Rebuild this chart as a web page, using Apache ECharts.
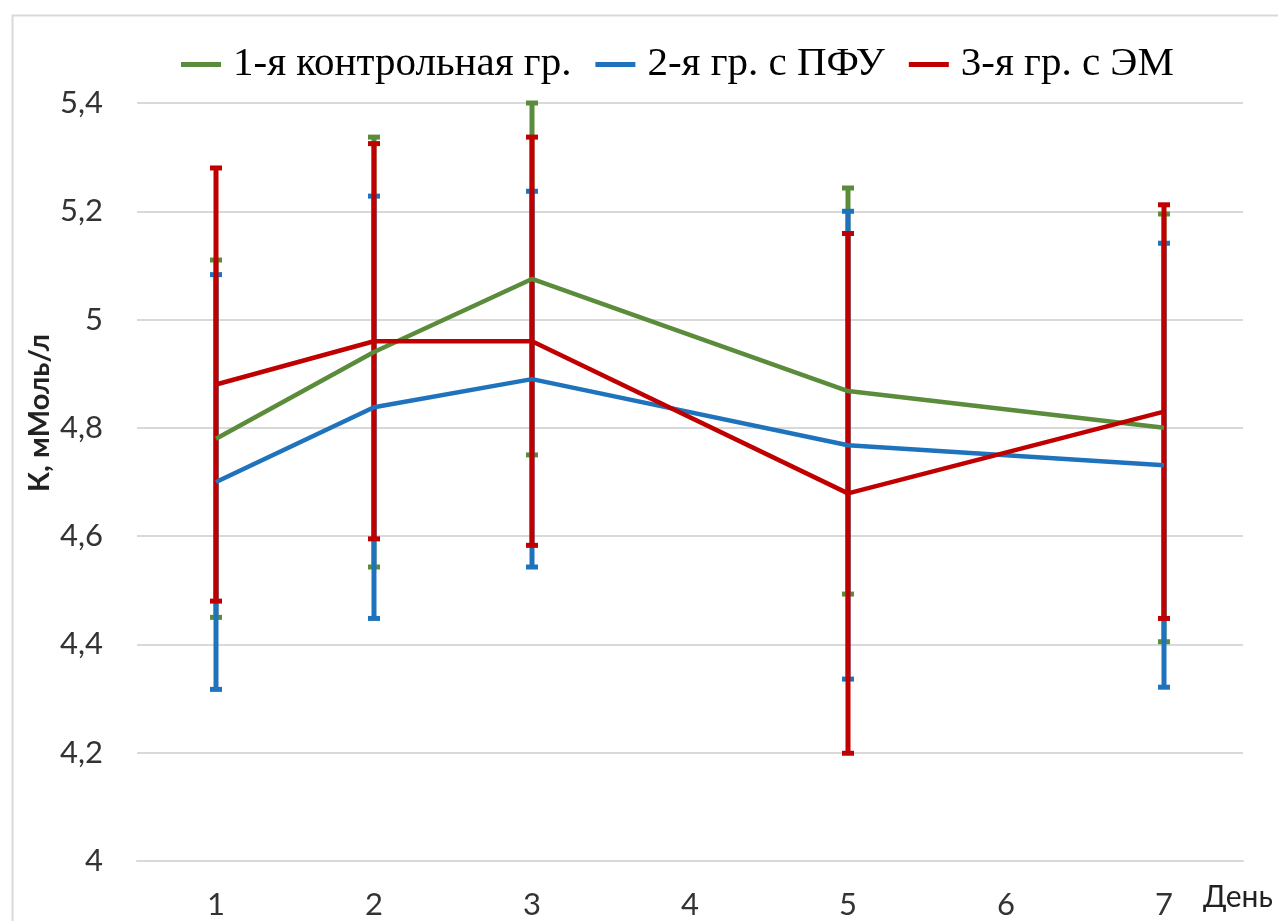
<!DOCTYPE html>
<html>
<head>
<meta charset="utf-8">
<script src="https://cdn.jsdelivr.net/npm/echarts@6/dist/echarts.min.js"></script>
<style>
  html, body { margin: 0; padding: 0; background: #fff; }
  #chart { width: 1278px; height: 921px; }
</style>
</head>
<body>
<div id="chart"></div>
<script>
// Days of observation (4 and 6 have no measurements)
const days = ['1', '2', '3', '4', '5', '6', '7'];

// Series names
const seriesNames = ['1-я контрольная гр.', '2-я гр. с ПФУ', '3-я гр. с ЭМ'];

// Mean potassium, mmol/l
const controlMean = [4.78, 4.94, 5.075, null, 4.868, null, 4.80];
const pfuMean     = [4.70, 4.838, 4.89, null, 4.768, null, 4.731];
const emMean      = [4.88, 4.96, 4.96, null, 4.679, null, 4.83];

// Standard deviations (error bar half-lengths)
const controlSd = [0.33, 0.397, 0.325, null, 0.375, null, 0.395];
const pfuSd     = [0.383, 0.39, 0.347, null, 0.432, null, 0.41];
const emSd      = [0.40, 0.365, 0.377, null, 0.48, null, 0.382];

// Y axis ticks
const yMin = 4, yMax = 5.4, yStep = 0.2;

const colors = ['#5b8c3b', '#1f73bd', '#c00000'];
const serifFont = 'Liberation Serif';
const sansFont = 'Lato';

function errorData(mean, sd) {
  const out = [];
  mean.forEach((m, i) => {
    if (m !== null && sd[i] !== null) out.push([i, m - sd[i], m + sd[i]]);
  });
  return out;
}

function errorSeries(mean, sd, color, z) {
  return {
    type: 'custom',
    z: z,
    silent: true,
    data: errorData(mean, sd),
    encode: { x: 0, y: [1, 2] },
    renderItem: function (params, api) {
      const x = api.value(0);
      const lo = api.coord([x, api.value(1)]);
      const hi = api.coord([x, api.value(2)]);
      const cap = 6;
      const style = { stroke: color, lineWidth: 5 };
      return {
        type: 'group',
        children: [
          { type: 'line', shape: { x1: lo[0], y1: lo[1], x2: hi[0], y2: hi[1] }, style: style },
          { type: 'line', shape: { x1: hi[0] - cap, y1: hi[1], x2: hi[0] + cap, y2: hi[1] }, style: style },
          { type: 'line', shape: { x1: lo[0] - cap, y1: lo[1], x2: lo[0] + cap, y2: lo[1] }, style: style }
        ]
      };
    }
  };
}

function lineSeries(name, data, color) {
  return {
    name: name,
    type: 'line',
    data: data,
    connectNulls: true,
    showSymbol: false,
    symbol: 'none',
    z: 4,
    lineStyle: { color: color, width: 4.5 },
    itemStyle: { color: color }
  };
}

const chart = echarts.init(document.getElementById('chart'), null, { renderer: 'canvas' });

chart.setOption({
  animation: false,
  backgroundColor: '#ffffff',
  color: colors,
  legend: {
    data: seriesNames,
    left: 176,
    top: 39,
    icon: 'rect',
    itemWidth: 40,
    itemHeight: 5,
    itemGap: 24,
    textStyle: {
      fontFamily: serifFont,
      fontSize: 41,
      color: '#000',
      padding: [0, 0, 0, 7]
    }
  },
  grid: { left: 137, right: 35, top: 103, bottom: 60 },
  xAxis: {
    type: 'category',
    data: days,
    boundaryGap: true,
    axisLine: { show: true, lineStyle: { color: '#d9d9d9', width: 2 } },
    axisTick: { show: false },
    axisLabel: {
      margin: 28,
      fontFamily: sansFont,
      fontSize: 31,
      color: '#333'
    },
    splitLine: { show: false }
  },
  yAxis: {
    type: 'value',
    min: yMin,
    max: yMax,
    interval: yStep,
    axisLine: { show: false },
    axisTick: { show: false },
    axisLabel: {
      margin: 34,
      fontFamily: sansFont,
      fontSize: 31,
      color: '#333',
      formatter: v => String(Number(v.toFixed(1))).replace('.', ',')
    },
    splitLine: { lineStyle: { color: '#d9d9d9', width: 2 } }
  },
  graphic: [
    {
      type: 'rect',
      left: 10, top: 13,
      shape: { width: 1300, height: 1000 },
      style: { fill: 'none', stroke: '#d9d9d9', lineWidth: 2 },
      silent: true,
      z: -1
    },
    {
      type: 'text',
      x: 40, y: 413,
      rotation: Math.PI / 2,
      style: {
        text: 'К, мМоль/л',
        fontFamily: sansFont,
        fontWeight: 'bold',
        fontSize: 29,
        fill: '#222',
        align: 'center',
        verticalAlign: 'middle'
      }
    },
    {
      type: 'text',
      x: 1203, y: 897,
      style: {
        text: 'День',
        fontFamily: sansFont,
        fontSize: 30,
        fill: '#222',
        align: 'left',
        verticalAlign: 'middle'
      }
    }
  ],
  series: [
    errorSeries(controlMean, controlSd, colors[0], 2),
    errorSeries(pfuMean, pfuSd, colors[1], 2),
    errorSeries(emMean, emSd, colors[2], 2),
    lineSeries(seriesNames[0], controlMean, colors[0]),
    lineSeries(seriesNames[1], pfuMean, colors[1]),
    lineSeries(seriesNames[2], emMean, colors[2])
  ]
});
</script>
</body>
</html>
